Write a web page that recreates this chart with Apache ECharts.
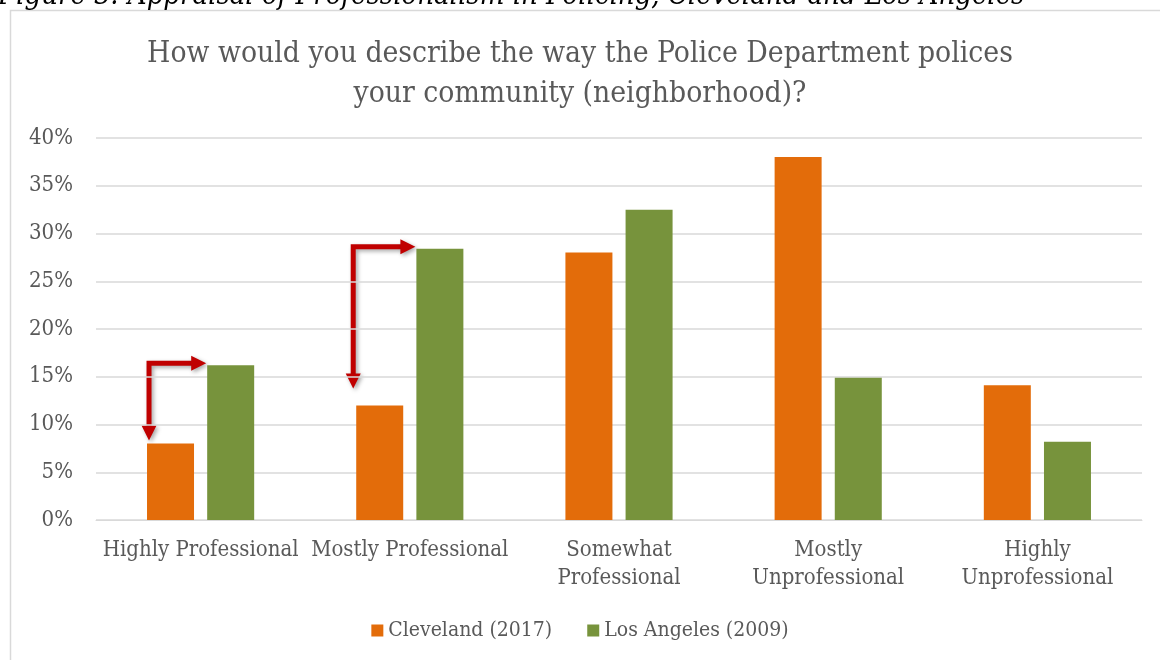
<!DOCTYPE html>
<html>
<head>
<meta charset="utf-8">
<title>Appraisal of Professionalism in Policing</title>
<script src="https://cdn.jsdelivr.net/npm/echarts@6/dist/echarts.min.js"></script>
<style>
  html, body { margin: 0; padding: 0; background: #ffffff; }
  #chart { width: 1160px; height: 660px; }
</style>
</head>
<body>
<div id="chart"></div>
<script>
// Survey categories (x axis)
const categories = [
  'Highly Professional',
  'Mostly Professional',
  'Somewhat\nProfessional',
  'Mostly\nUnprofessional',
  'Highly\nUnprofessional'
];
// Share of respondents, percent
const cleveland2017 = [8, 12, 28, 38, 14.1];
const losAngeles2009 = [16.2, 28.4, 32.5, 14.9, 8.2];
const seriesNames = ['Cleveland (2017)', 'Los Angeles (2009)'];
// Y axis ticks
const yMin = 0, yMax = 40, yStep = 5;

// Category indices that get an elbow arrow from the LA bar top down to the Cleveland bar
const arrowCategories = [0, 1];
const arrowStopShort = [3, 17];
const arrowInset = [2, -3];

const FONT = "'DejaVu Serif Condensed', 'DejaVu Serif', serif";
const TEXT = '#595959';
const GRID = '#d9d9d9';
const ORANGE = '#E36C0A';
const GREEN = '#77933C';
const RED = '#C00000';

const chart = echarts.init(document.getElementById('chart'), null, { renderer: 'canvas' });

const option = {
  backgroundColor: '#ffffff',
  animation: false,
  textStyle: { fontFamily: FONT, color: TEXT },
  title: {
    text: 'How would you describe the way the Police Department polices\nyour community (neighborhood)?',
    left: 'center',
    top: 29,
    textStyle: { fontFamily: FONT, fontSize: 29.75, fontWeight: 'normal', color: TEXT, lineHeight: 40 }
  },
  legend: {
    bottom: 14,
    left: 'center',
    itemWidth: 12,
    itemHeight: 12,
    itemGap: 35,
    icon: 'rect',
    textStyle: { fontFamily: FONT, fontSize: 21, color: TEXT },
    data: seriesNames
  },
  grid: { left: 96, right: 18, top: 138, bottom: 140, containLabel: false },
  xAxis: {
    type: 'category',
    data: categories,
    axisLine: { show: true, lineStyle: { color: GRID, width: 1 } },
    axisTick: { show: false },
    axisLabel: {
      interval: 0, margin: 16, color: TEXT, fontFamily: FONT, fontSize: 22, lineHeight: 28
    }
  },
  yAxis: {
    type: 'value',
    min: yMin, max: yMax, interval: yStep,
    axisLine: { show: false },
    axisTick: { show: false },
    splitLine: { lineStyle: { color: GRID, width: 1.5 } },
    axisLabel: { formatter: '{value}%', margin: 23, color: TEXT, fontFamily: FONT, fontSize: 22 }
  },
  series: [
    {
      name: seriesNames[0], type: 'bar', data: cleveland2017,
      barWidth: 47, barGap: '28%',
      itemStyle: { color: ORANGE }
    },
    {
      name: seriesNames[1], type: 'bar', data: losAngeles2009,
      barWidth: 47, barGap: '28%',
      itemStyle: { color: GREEN }
    }
  ],
  graphic: []
};

chart.setOption(option);

// Pixel rectangle of a drawn bar
function barRect(seriesIndex, idx) {
  const data = chart.getModel().getSeriesByIndex(seriesIndex).getData();
  const l = data.getItemLayout(idx);
  return { x: l.x, top: l.y + Math.min(0, l.height), w: l.width };
}

// Frame, figure caption (mostly above the page edge) and the red elbow arrows
function buildGraphics() {
  const els = [
    {
      type: 'rect', z: -10, silent: true,
      shape: { x: 10.5, y: 10.5, width: 1200, height: 700 },
      style: { fill: 'none', stroke: GRID, lineWidth: 1.5 }
    },
    {
      type: 'text', silent: true, x: -2, y: -18,
      style: {
        text: 'Figure 3: Appraisal of Professionalism in Policing, Cleveland and Los Angeles',
        font: "italic 29px 'DejaVu Serif Condensed', 'DejaVu Serif', serif",
        fill: '#000000'
      }
    }
  ];
  const shadow = { shadowBlur: 4, shadowOffsetX: 2, shadowOffsetY: 2, shadowColor: 'rgba(0,0,0,0.35)' };
  const head = 15, half = 7.5, lw = 5;
  arrowCategories.forEach((cat, k) => {
    const cl = barRect(0, cat);
    const la = barRect(1, cat);
    const x0 = cl.x + arrowInset[k];
    const y0 = la.top - 2;
    const downTip = cl.top - arrowStopShort[k];
    const rightTip = la.x - 1;
    els.push({
      type: 'polyline', silent: true,
      shape: { points: [[x0, downTip - head + 1], [x0, y0], [rightTip - head + 1, y0]] },
      style: Object.assign({ stroke: RED, lineWidth: lw, fill: 'none', lineJoin: 'miter' }, shadow)
    });
    els.push({
      type: 'polygon', silent: true,
      shape: { points: [[x0 - half, downTip - head], [x0 + half, downTip - head], [x0, downTip]] },
      style: Object.assign({ fill: RED }, shadow)
    });
    els.push({
      type: 'polygon', silent: true,
      shape: { points: [[rightTip - head, y0 - half], [rightTip - head, y0 + half], [rightTip, y0]] },
      style: Object.assign({ fill: RED }, shadow)
    });
  });
  return els;
}

chart.setOption({ graphic: buildGraphics() });
</script>
</body>
</html>
